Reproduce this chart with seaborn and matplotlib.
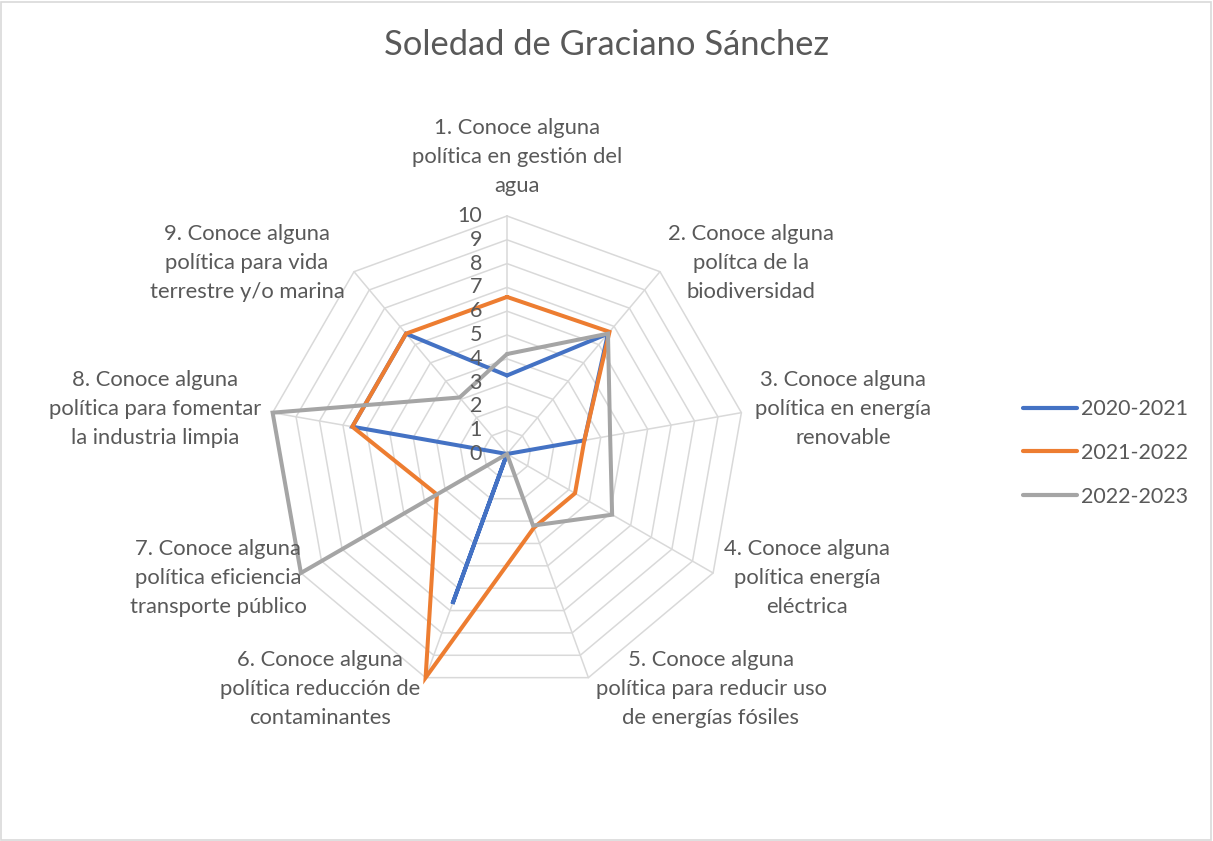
import numpy as np
import pandas as pd
import matplotlib
matplotlib.use("Agg")
import matplotlib.pyplot as plt
from matplotlib.lines import Line2D
from matplotlib.patches import Rectangle
import seaborn as sns

# Data
categorias = [
    "1. Conoce alguna\npolítica en gestión del\nagua",
    "2. Conoce alguna\npolítca de la\nbiodiversidad",
    "3. Conoce alguna\npolítica en energía\nrenovable",
    "4. Conoce alguna\npolítica energía\neléctrica",
    "5. Conoce alguna\npolítica para reducir uso\nde energías fósiles",
    "6. Conoce alguna\npolítica reducción de\ncontaminantes",
    "7. Conoce alguna\npolítica eficiencia\ntransporte público",
    "8. Conoce alguna\npolítica para fomentar\nla industria limpia",
    "9. Conoce alguna\npolítica para vida\nterrestre y/o marina",
]
series = ["2020-2021", "2021-2022", "2022-2023"]
v_2020 = [3.3, 6.6, 3.3, 0, 0, 6.7, 0, 6.6, 6.6]
v_2021 = [6.6, 6.7, 3.3, 3.3, 3.3, 10, 3.4, 6.6, 6.6]
v_2022 = [4.2, 6.6, 4.4, 5.1, 3.2, 0, 10, 10, 3.1]
niveles = list(range(0, 11))

colores = ["#4472C4", "#ED7D31", "#A5A5A5"]
texto = "#595959"
rejilla = "#D9D9D9"

# label centres in pixels (x from left, y from top)
label_pos = [(517, 157), (751, 263), (843, 409), (807, 578), (711, 689),
             (320, 689), (218, 578), (155, 409), (247, 263)]

W, H = 1213, 841
sns.set_theme(style="white")
plt.rcParams["font.family"] = ["Lato", "DejaVu Sans"]

n = len(categorias)
angulos = np.linspace(0, 2 * np.pi, n, endpoint=False)

rows = []
for nombre, vals in zip(series, [v_2020, v_2021, v_2022]):
    for i in list(range(n)) + [0]:
        rows.append({"serie": nombre, "theta": angulos[i], "valor": vals[i]})
df = pd.DataFrame(rows)

fig = plt.figure(figsize=(W / 100, H / 100), dpi=100)
cx, cy, R = 507, 454, 238
ax = fig.add_axes([(cx - R) / W, (H - cy - R) / H, 2 * R / W, 2 * R / H],
                  projection="polar")
ax.set_theta_zero_location("N")
ax.set_theta_direction(-1)
ax.set_ylim(0, 10)
ax.grid(False)
ax.set_xticks([])
ax.set_yticks([])
ax.spines["polar"].set_visible(False)
ax.patch.set_alpha(0)

# polygon grid
cerrado = np.append(angulos, angulos[0])
for k in niveles[1:]:
    ax.plot(cerrado, [k] * (n + 1), color=rejilla, lw=1.1, zorder=0, clip_on=False)
for a in angulos:
    ax.plot([a, a], [0, 10], color=rejilla, lw=1.1, zorder=0, clip_on=False)

sns.lineplot(data=df, x="theta", y="valor", hue="serie", sort=False,
             estimator=None, palette=colores, linewidth=2.9, legend=False, ax=ax)
for ln in ax.lines[-3:]:
    ln.set_clip_on(False)
    ln.set_solid_joinstyle("miter")
ax.set_xlabel("")
ax.set_ylabel("")

# radial tick labels
for k in niveles:
    ax.annotate(str(k), xy=(0, k), xytext=(-25, 0), textcoords="offset pixels",
                ha="right", va="center", fontsize=15.5, color=texto)

# category labels
for lab, (px, py) in zip(categorias, label_pos):
    fig.text(px / W, 1 - py / H, lab, ha="center", va="center", fontsize=15.8,
             color=texto, linespacing=1.55, multialignment="center")

fig.text(607 / W, 1 - 45 / H, "Soledad de Graciano Sánchez", ha="center",
         va="center", fontsize=24.8, color=texto)

handles = [Line2D([0], [0], color=c, lw=3, solid_capstyle="round") for c in colores]
fig.legend(handles, series, loc="center left", bbox_to_anchor=(1023 / W, 1 - 453 / H),
           frameon=False, borderpad=0, borderaxespad=0, handlelength=2.5,
           handletextpad=0.2, labelspacing=1.1, fontsize=15.5, labelcolor=texto)

fig.add_artist(Rectangle((1 / W, 1 / H), (W - 3) / W, (H - 3) / H,
                         transform=fig.transFigure, fill=False, ec=rejilla, lw=1.2))

fig.savefig("out.png", dpi=100)
